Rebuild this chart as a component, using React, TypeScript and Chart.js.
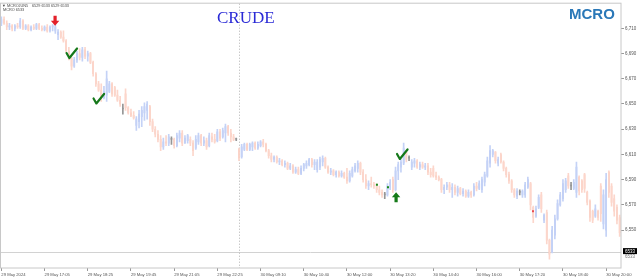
import { useEffect, useRef } from 'react';
import { Chart, registerables } from 'chart.js';

Chart.register(...registerables);

// ---- data (5-minute candles, MCRO) ----
const OPEN = [6714,6717,6714,6711,6712,6710,6712,6711,6716,6710,6712,6709,6711,6710,6713,6710,6709,6711,6708,6711,6708,6705,6707,6703,6700,6692,6686,6680,6685,6690,6687,6693,6688,6690,6683,6674,6666,6661,6655,6657,6660,6666,6663,6657,6653,6646,6658,6647,6643,6641,6633,6636,6640,6643,6645,6648,6636,6630,6626,6622,6616,6620,6619,6622,6622,6617,6623,6627,6619,6621,6622,6619,6615,6620,6625,6619,6621,6617,6624,6622,6621,6628,6624,6627,6632,6627,6624,6622,6614,6608,6614,6618,6614,6616,6619,6615,6617,6620,6618,6613,6609,6606,6608,6604,6605,6602,6603,6599,6601,6596,6598,6595,6599,6601,6602,6606,6602,6598,6600,6604,6607,6600,6596,6597,6594,6596,6593,6595,6592,6589,6593,6597,6599,6603,6596,6590,6585,6587,6586,6585,6582,6580,6578,6578,6584,6590,6582,6597,6600,6603,6612,6607,6600,6603,6605,6600,6602,6600,6601,6596,6599,6593,6592,6590,6582,6584,6586,6582,6584,6580,6583,6579,6581,6577,6580,6578,6585,6583,6582,6588,6593,6603,6610,6612,6603,6610,6604,6599,6594,6589,6582,6577,6580,6578,6578,6584,6587,6568,6561,6568,6578,6558,6564,6542,6533,6546,6559,6570,6575,6582,6593,6585,6583,6580,6592,6589,6594,6580,6573,6565,6561,6565,6585,6555,6550,6596,6585,6575,6568,6560];
const HIGH = [6719,6719,6716,6714,6713,6713,6714,6718,6717,6713,6713,6712,6713,6714,6714,6712,6712,6713,6712,6713,6713,6709,6708,6708,6701,6695,6687,6687,6692,6694,6695,6695,6692,6691,6684,6675,6668,6666,6664,6676,6668,6667,6664,6661,6656,6650,6662,6648,6646,6644,6640,6645,6648,6651,6652,6649,6638,6632,6629,6625,6623,6625,6626,6624,6623,6627,6629,6629,6625,6626,6624,6621,6625,6627,6626,6624,6623,6627,6627,6626,6630,6630,6631,6634,6633,6630,6626,6623,6615,6618,6619,6619,6619,6620,6620,6620,6621,6622,6619,6614,6611,6609,6609,6607,6606,6605,6604,6603,6602,6600,6600,6601,6603,6605,6607,6607,6606,6606,6608,6609,6608,6601,6599,6598,6597,6597,6597,6596,6599,6597,6600,6603,6605,6604,6598,6594,6589,6592,6588,6587,6585,6582,6580,6587,6590,6592,6600,6604,6606,6619,6613,6609,6606,6607,6606,6604,6604,6603,6603,6599,6601,6596,6593,6591,6586,6588,6588,6587,6586,6585,6584,6583,6582,6582,6581,6587,6588,6589,6592,6596,6608,6617,6614,6612,6608,6611,6605,6600,6596,6590,6583,6583,6582,6582,6588,6592,6588,6569,6569,6578,6580,6563,6566,6543,6553,6562,6574,6580,6590,6591,6595,6588,6590,6604,6593,6590,6595,6581,6574,6566,6570,6566,6587,6582,6595,6597,6587,6578,6570,6562];
const LOW = [6712,6713,6709,6709,6708,6708,6710,6710,6709,6709,6708,6708,6709,6709,6709,6708,6708,6707,6707,6708,6706,6701,6702,6699,6691,6685,6677,6679,6683,6685,6684,6686,6684,6682,6672,6664,6660,6652,6654,6652,6659,6656,6656,6652,6648,6642,6645,6642,6640,6638,6629,6631,6632,6637,6638,6633,6628,6624,6620,6613,6614,6617,6617,6618,6615,6616,6620,6617,6619,6619,6617,6609,6614,6618,6617,6617,6614,6616,6620,6619,6620,6621,6623,6620,6625,6620,6621,6621,6605,6607,6613,6613,6613,6613,6614,6614,6616,6616,6612,6607,6604,6604,6603,6602,6601,6600,6598,6598,6595,6595,6594,6594,6597,6599,6601,6600,6598,6596,6598,6601,6599,6595,6594,6593,6592,6592,6592,6591,6587,6588,6592,6596,6596,6594,6588,6583,6582,6584,6583,6580,6578,6576,6575,6577,6582,6580,6581,6590,6596,6602,6604,6605,6598,6600,6599,6598,6599,6598,6594,6592,6592,6590,6589,6580,6579,6582,6580,6576,6578,6577,6578,6577,6576,6576,6576,6577,6581,6582,6580,6585,6592,6600,6608,6603,6601,6603,6597,6592,6587,6580,6576,6575,6578,6576,6576,6583,6566,6556,6560,6567,6564,6556,6539,6527,6532,6543,6558,6569,6573,6580,6583,6582,6582,6576,6578,6580,6580,6570,6557,6556,6560,6558,6557,6551,6545,6576,6569,6561,6555,6545];
const CLOSE = [6717,6714,6711,6712,6710,6712,6711,6716,6710,6712,6709,6711,6710,6713,6710,6709,6711,6708,6711,6712,6711,6707,6703,6700,6692,6686,6680,6685,6690,6687,6693,6688,6690,6683,6674,6666,6661,6655,6660,6670,6666,6658,6657,6653,6650,6646,6647,6643,6641,6639,6638,6642,6645,6648,6650,6636,6630,6626,6622,6616,6620,6619,6624,6622,6617,6625,6627,6619,6623,6625,6619,6613,6622,6625,6619,6621,6616,6625,6622,6620,6628,6623,6629,6632,6627,6624,6622,6622,6607,6616,6618,6614,6618,6619,6615,6618,6620,6618,6613,6609,6606,6608,6604,6605,6602,6603,6599,6601,6596,6598,6595,6599,6602,6603,6606,6602,6604,6604,6606,6607,6600,6596,6597,6594,6596,6593,6595,6592,6589,6595,6598,6601,6603,6596,6590,6585,6587,6586,6585,6582,6580,6578,6578,6585,6588,6582,6597,6602,6604,6615,6606,6607,6604,6605,6600,6602,6600,6601,6596,6594,6593,6592,6590,6582,6584,6586,6582,6584,6580,6583,6579,6581,6577,6580,6578,6585,6583,6587,6590,6594,6605,6613,6613,6605,6606,6604,6599,6594,6589,6582,6578,6581,6580,6581,6586,6590,6570,6560,6567,6576,6567,6562,6542,6531,6550,6559,6571,6578,6587,6589,6585,6585,6588,6600,6581,6582,6583,6572,6560,6558,6567,6560,6563,6578,6590,6580,6572,6565,6558,6548];

const TICK_LABELS = [
  '29 May 2024', '29 May 17:05', '29 May 18:25', '29 May 19:45', '29 May 21:05',
  '29 May 22:25', '30 May 09:10', '30 May 10:40', '30 May 12:00', '30 May 13:20',
  '30 May 14:40', '30 May 16:00', '30 May 17:20', '30 May 18:40', '30 May 20:00',
];
const TICK_EVERY = 16;
const PRICE_TICKS = [6550, 6570, 6590, 6610, 6630, 6650, 6670, 6690, 6710];
const LAST_PRICE = 6533;
const Y_MIN = 6520;
const Y_MAX = 6729.5;
const SESSION_BREAK = 88;

// signal markers: kind, bar index, price
const SIGNAL_KIND = ['down', 'check', 'check', 'check', 'up', 'gdot', 'gdot', 'rdot'];
const SIGNAL_INDEX = [19.9, 26, 36, 148.4, 146.2, 139.1, 143.2, 196.9];
const SIGNAL_PRICE = [6716, 6690, 6654, 6610, 6576, 6586, 6584, 6565];

const BULL_WICK = 'rgb(196,210,246)';
const BULL_BODY = 'rgb(172,190,242)';
const BEAR_WICK = 'rgb(252,214,203)';
const BEAR_BODY = 'rgb(249,192,176)';
const DOJI = 'rgb(150,150,150)';

export default function App() {
  const ref = useRef<HTMLCanvasElement | null>(null);

  useEffect(() => {
    document.body.style.margin = '0';
    const canvas = ref.current;
    if (!canvas) return;

    const labels = OPEN.map((_, i) => (i % TICK_EVERY === 0 ? TICK_LABELS[i / TICK_EVERY] ?? '' : ''));
    const dir = OPEN.map((o, i) => (CLOSE[i] > o ? 1 : CLOSE[i] < o ? -1 : 0));
    const wickColors = dir.map((d) => (d > 0 ? BULL_WICK : d < 0 ? BEAR_WICK : DOJI));
    const bodyColors = dir.map((d) => (d > 0 ? BULL_BODY : d < 0 ? BEAR_BODY : DOJI));

    const overlay = {
      id: 'overlay',
      beforeDatasetsDraw(chart: any) {
        const { ctx, chartArea: a, scales } = chart;
        const x = scales.x;
        const y = scales.y;
        ctx.save();
        const py = Math.round(y.getPixelForValue(LAST_PRICE)) + 0.5;
        ctx.strokeStyle = '#d2d2d2';
        ctx.lineWidth = 1;
        ctx.beginPath();
        ctx.moveTo(a.left, py);
        ctx.lineTo(a.right, py);
        ctx.stroke();
        const sx = Math.round(x.getPixelForValue(SESSION_BREAK)) + 0.5;
        ctx.setLineDash([1, 2]);
        ctx.strokeStyle = '#b0b0b0';
        ctx.beginPath();
        ctx.moveTo(sx, a.top);
        ctx.lineTo(sx, a.bottom);
        ctx.stroke();
        ctx.setLineDash([]);
        ctx.restore();
      },
      afterDatasetsDraw(chart: any) {
        const { ctx, chartArea: a, scales } = chart;
        const x = scales.x;
        const y = scales.y;
        ctx.save();
        ctx.strokeStyle = '#c8c8c8';
        ctx.lineWidth = 1;
        ctx.strokeRect(a.left + 0.5, a.top - 0.5, a.right - a.left - 0.5, a.bottom - a.top + 0.5);

        SIGNAL_KIND.forEach((k, n) => {
          const cx = x.getPixelForValue(SIGNAL_INDEX[n]);
          const cy = y.getPixelForValue(SIGNAL_PRICE[n]);
          if (k === 'check') {
            ctx.strokeStyle = '#15781a';
            ctx.lineWidth = 2.2;
            ctx.lineCap = 'round';
            ctx.lineJoin = 'round';
            ctx.beginPath();
            ctx.moveTo(cx - 5, cy - 0.5);
            ctx.lineTo(cx - 2.2, cy + 4.5);
            ctx.lineTo(cx + 5.5, cy - 5);
            ctx.stroke();
          } else if (k === 'down' || k === 'up') {
            const s = k === 'down' ? 1 : -1;
            ctx.fillStyle = k === 'down' ? '#e3202a' : '#157a18';
            ctx.beginPath();
            ctx.moveTo(cx - 1.6, cy - 5 * s);
            ctx.lineTo(cx + 1.6, cy - 5 * s);
            ctx.lineTo(cx + 1.6, cy);
            ctx.lineTo(cx + 4.2, cy);
            ctx.lineTo(cx, cy + 5 * s);
            ctx.lineTo(cx - 4.2, cy);
            ctx.lineTo(cx - 1.6, cy);
            ctx.closePath();
            ctx.fill();
          } else {
            ctx.fillStyle = k === 'gdot' ? '#1a8a1a' : '#e84a50';
            ctx.fillRect(cx - 1, cy - 1, 2, 2);
          }
        });

        // header
        ctx.fillStyle = '#444';
        ctx.font = '3.8px "Liberation Sans"';
        ctx.textAlign = 'left';
        ctx.textBaseline = 'alphabetic';
        ctx.fillText('\u25BC', 2, 6.5);
        ctx.fillText('MCROJUN5', 7, 6.5);
        ctx.fillText('6529 6533 6529 6533', 32, 6.5);
        ctx.fillText('MCRO 6533', 3, 10.5);

        // titles
        ctx.fillStyle = '#2a2ad6';
        ctx.font = '17px "Liberation Serif"';
        ctx.fillText('CRUDE', 217, 23);
        ctx.fillStyle = '#2a78b8';
        ctx.font = 'bold 15px "Liberation Sans"';
        ctx.fillText('MCRO', 569, 19);

        // last price box
        const py = y.getPixelForValue(LAST_PRICE);
        ctx.fillStyle = '#000';
        ctx.fillRect(a.right + 2, py - 3.5, 14, 6);
        ctx.fillStyle = '#fff';
        ctx.font = '4.5px "Liberation Sans"';
        ctx.textBaseline = 'middle';
        ctx.fillText(String(LAST_PRICE), a.right + 4, py - 0.3);
        ctx.fillStyle = '#777';
        ctx.fillText(String(LAST_PRICE), a.right + 4, py + 5);
        ctx.restore();
      },
    };

    const chart = new Chart(canvas, {
      type: 'bar',
      data: {
        labels,
        datasets: [
          {
            data: LOW.map((l, i) => [l, HIGH[i]]) as any,
            backgroundColor: wickColors,
            barThickness: 1,
            grouped: false,
            borderWidth: 0,
          } as any,
          {
            data: OPEN.map((o, i) => [o, CLOSE[i]]) as any,
            backgroundColor: bodyColors,
            barThickness: 1,
            grouped: false,
            borderWidth: 0,
            minBarLength: 1,
          } as any,
        ],
      },
      options: {
        responsive: false,
        animation: false,
        devicePixelRatio: 1,
        layout: { padding: { top: 2, left: 0, right: 0, bottom: 0 } },
        plugins: { legend: { display: false }, tooltip: { enabled: false }, title: { display: false } },
        scales: {
          x: {
            type: 'category',
            offset: true,
            grid: { display: true, drawOnChartArea: false, drawTicks: true, tickLength: 3, color: '#999', offset: false },
            border: { display: false },
            ticks: {
              autoSkip: false,
              maxRotation: 0,
              minRotation: 0,
              align: 'start',
              padding: 1,
              color: '#555',
              font: { size: 4.2, family: 'Liberation Sans' },
            },
            afterBuildTicks: (scale: any) => {
              scale.ticks = scale.ticks.filter((t: any) => t.value % TICK_EVERY === 0);
            },
            afterFit: (scale: any) => {
              scale.height = 10;
            },
          },
          y: {
            type: 'linear',
            position: 'right',
            min: Y_MIN,
            max: Y_MAX,
            grid: { display: true, drawOnChartArea: false, drawTicks: true, tickLength: 3, color: '#999' },
            border: { display: false },
            ticks: {
              padding: 1,
              color: '#555',
              font: { size: 4.5, family: 'Liberation Sans' },
            },
            afterBuildTicks: (scale: any) => {
              scale.ticks = PRICE_TICKS.map((v) => ({ value: v }));
            },
            afterFit: (scale: any) => {
              scale.width = 19;
            },
          },
        },
      } as any,
      plugins: [overlay],
    });

    return () => chart.destroy();
  }, []);

  return (
    <div style={{ width: 640, height: 278, background: '#fff' }}>
      <canvas ref={ref} width={640} height={278} />
    </div>
  );
}
